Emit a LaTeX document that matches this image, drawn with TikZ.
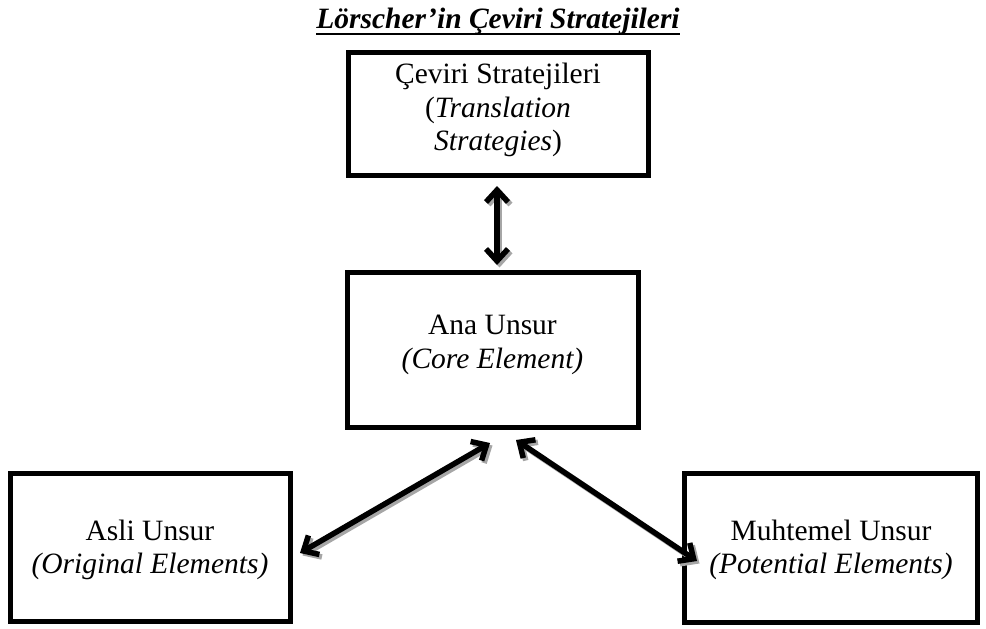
\documentclass[tikz,border=0pt]{standalone}
\usepackage{fontspec}
\setmainfont{Liberation Serif}
\usetikzlibrary{arrows.meta,calc}
\begin{document}
\begin{tikzpicture}[x=1pt,y=-1pt,
  box/.style={draw=black,line width=5pt,inner sep=0pt},
  boxtext/.style={align=center,inner sep=0pt,font=\fontsize{29.5}{33.5}\selectfont},
  barbtip/.tip={Straight Barb[length=12pt,width=22pt,line join=miter]},
  link/.style={line width=5.5pt,barbtip-barbtip},
  linkshade/.style={link,draw=black!35}]
  \useasboundingbox (0,0) rectangle (986,629);

  % title with a heavy underline
  \node[anchor=base,inner sep=0pt] (title) at (498,28)
    {\fontsize{29.5}{33}\selectfont\bfseries\itshape Lörscher’in Çeviri Stratejileri};
  \draw[line width=2.6pt] ($(title.base west)+(0,6)$) -- ($(title.base east)+(0,6)$);

  % boxes
  \node[box,minimum width=300pt,minimum height=123pt] (strat) at (498,114) {};
  \node[box,minimum width=291pt,minimum height=155pt] (core) at (492.5,350) {};
  \node[box,minimum width=280pt,minimum height=148pt] (orig) at (150,547) {};
  \node[box,minimum width=293pt,minimum height=149pt] (pot) at (831,548) {};

  % box labels
  \node[boxtext] (strat-t) at ($(strat)+(0,-4)$)
    {Çeviri Stratejileri\\(\textit{Translation}\\\textit{Strategies})};
  \node[boxtext] (core-t) at ($(core)+(0,-5)$)
    {Ana Unsur\\\textit{(Core Element)}};
  \node[boxtext] (orig-t) at ($(orig)+(0,3)$)
    {Asli Unsur\\\textit{(Original Elements)}};
  \node[boxtext] (pot-t) at ($(pot)+(0,2)$)
    {Muhtemel Unsur\\\textit{(Potential Elements)}};

  % arrow end points
  \coordinate (a1) at ($(strat.south)+(-1,8)$);
  \coordinate (a2) at ($(core.north)+(4.5,-5)$);
  \coordinate (b1) at (490,443);
  \coordinate (b2) at (300,553);
  \coordinate (c1) at (516,440);
  \coordinate (c2) at (697,561);

  % shadows
  \draw[linkshade] ($(a1)+(2.5,2.5)$) -- ($(a2)+(2.5,2.5)$);
  \draw[linkshade] ($(b1)+(2.5,2.5)$) -- ($(b2)+(2.5,2.5)$);
  \draw[linkshade] ($(c1)+(2.5,2.5)$) -- ($(c2)+(2.5,2.5)$);
  % connectors
  \draw[link] (a1) -- (a2);
  \draw[link] (b1) -- (b2);
  \draw[link] (c1) -- (c2);
\end{tikzpicture}
\end{document}
